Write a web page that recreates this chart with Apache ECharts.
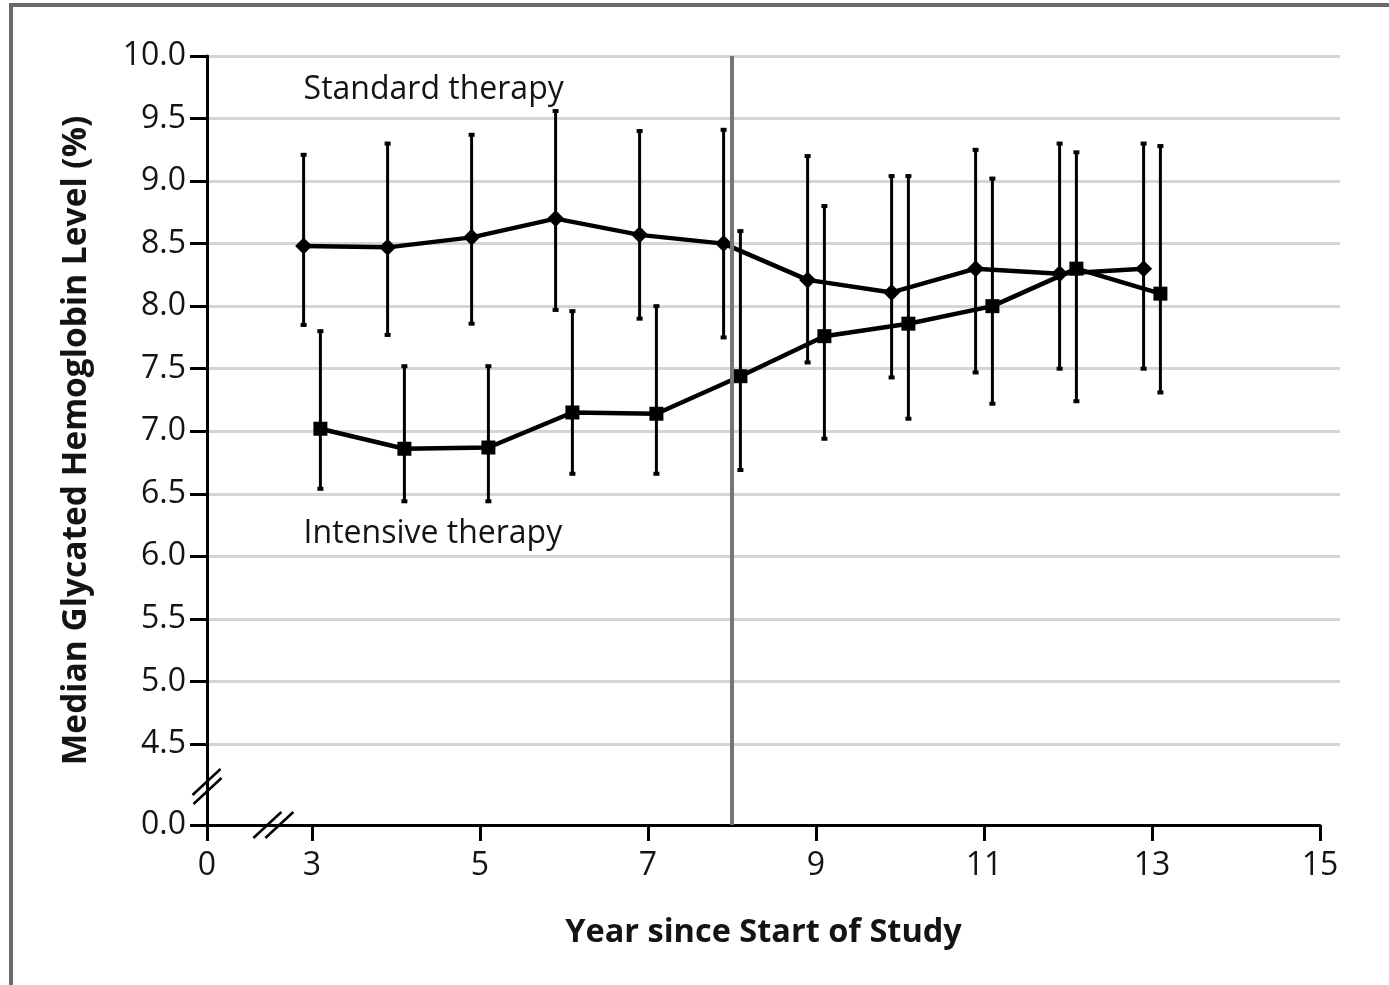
<!DOCTYPE html>
<html>
<head>
<meta charset="utf-8">
<script src="https://cdn.jsdelivr.net/npm/echarts@6/dist/echarts.min.js"></script>
<style>
  html, body { margin: 0; padding: 0; background: #ffffff; }
  #chart { width: 1389px; height: 985px; }
</style>
</head>
<body>
<div id="chart"></div>
<script>
// Median HbA1c per arm; the two arms are plotted 0.1 yr either side of each whole year
const standardYears  = [2.9, 3.9, 4.9, 5.9, 6.9, 7.9, 8.9, 9.9, 10.9, 11.9, 12.9];
const standardMedian = [8.48, 8.47, 8.55, 8.70, 8.57, 8.50, 8.21, 8.11, 8.30, 8.26, 8.30];
const standardLow    = [7.85, 7.77, 7.86, 7.97, 7.90, 7.75, 7.55, 7.43, 7.47, 7.50, 7.50];
const standardHigh   = [9.21, 9.30, 9.37, 9.56, 9.40, 9.41, 9.20, 9.04, 9.25, 9.30, 9.30];

const intensiveYears  = [3.1, 4.1, 5.1, 6.1, 7.1, 8.1, 9.1, 10.1, 11.1, 12.1, 13.1];
const intensiveMedian = [7.02, 6.86, 6.87, 7.15, 7.14, 7.44, 7.76, 7.86, 8.00, 8.30, 8.10];
const intensiveLow    = [6.54, 6.44, 6.44, 6.66, 6.66, 6.69, 6.94, 7.10, 7.22, 7.24, 7.31];
const intensiveHigh   = [7.80, 7.52, 7.52, 7.96, 8.00, 8.60, 8.80, 9.04, 9.02, 9.23, 9.28];

// Both axes are broken: the first value of each tick list is the origin, labelled "0" / "0.0"
const xOrigin = 1.75;
const yOrigin = 3.852;
const xTickValues = [xOrigin, 3, 5, 7, 9, 11, 13, 15];
const yTickValues = [yOrigin, 4.5, 5.0, 5.5, 6.0, 6.5, 7.0, 7.5, 8.0, 8.5, 9.0, 9.5, 10.0];
const gridYValues = [4.5, 10.0];
const interventionEndYear = 8;

const seriesNames = ['Standard therapy', 'Intensive therapy'];

const FONT = '"Open Sans", "Noto Sans", sans-serif';
const INK = '#141414';

const chart = echarts.init(document.getElementById('chart'), null, { renderer: 'canvas' });

function errorBars(years, low, high) {
  return {
    type: 'custom',
    xAxisIndex: 1,
    yAxisIndex: 1,
    z: 3,
    silent: true,
    data: years.map((x, i) => [x, low[i], high[i]]),
    encode: { x: 0, y: [1, 2] },
    renderItem(params, api) {
      const x = api.value(0);
      const top = api.coord([x, api.value(2)]);
      const bot = api.coord([x, api.value(1)]);
      const stem = { stroke: '#000', lineWidth: 3 };
      const cap = { stroke: '#000', lineWidth: 4 };
      return {
        type: 'group',
        children: [
          { type: 'line', shape: { x1: top[0], y1: top[1], x2: bot[0], y2: bot[1] }, style: stem },
          { type: 'line', shape: { x1: top[0] - 3, y1: top[1], x2: top[0] + 3, y2: top[1] }, style: cap },
          { type: 'line', shape: { x1: bot[0] - 3, y1: bot[1], x2: bot[0] + 3, y2: bot[1] }, style: cap }
        ]
      };
    }
  };
}

const option = {
  backgroundColor: '#ffffff',
  animation: false,
  grid: [
    // grid 0 only carries the horizontal reference lines (they run a little past 15)
    { left: 207, top: 56, right: 49, bottom: 241, containLabel: false },
    // grid 1 carries the axes and the data
    { left: 207, top: 56, right: 69, bottom: 160, containLabel: false }
  ],
  xAxis: [
    { type: 'value', gridIndex: 0, show: false, min: xOrigin, max: 15.238 },
    {
      type: 'value', gridIndex: 1, min: xOrigin, max: 15,
      axisLine: { show: true, onZero: false, lineStyle: { color: '#000', width: 3 } },
      axisTick: { show: true, customValues: xTickValues, length: 16, inside: false, lineStyle: { color: '#000', width: 3 } },
      axisLabel: {
        customValues: xTickValues, margin: 25, color: INK, fontFamily: FONT, fontSize: 32,
        formatter: v => (v === xOrigin ? '0' : String(v))
      },
      splitLine: { show: false },
      name: 'Year since Start of Study',
      nameLocation: 'middle',
      nameGap: 91,
      nameTextStyle: { color: INK, fontFamily: FONT, fontSize: 32.5, fontWeight: 'bold' }
    }
  ],
  yAxis: [
    {
      type: 'value', gridIndex: 0, min: gridYValues[0], max: gridYValues[1], interval: 0.5,
      axisLine: { show: false }, axisTick: { show: false }, axisLabel: { show: false },
      splitLine: { show: true, lineStyle: { color: '#d5d5d9', width: 3 } }
    },
    {
      type: 'value', gridIndex: 1, min: yOrigin, max: 10,
      axisLine: { show: true, onZero: false, lineStyle: { color: '#000', width: 3 } },
      axisTick: { show: true, customValues: yTickValues, length: 17, inside: false, lineStyle: { color: '#000', width: 3 } },
      axisLabel: {
        customValues: yTickValues, margin: 21, color: INK, fontFamily: FONT, fontSize: 32,
        formatter: v => (v === yOrigin ? '0.0' : v.toFixed(1))
      },
      splitLine: { show: false },
      name: 'Median Glycated Hemoglobin Level (%)',
      nameLocation: 'middle',
      nameGap: 114,
      nameRotate: 90,
      nameTextStyle: { color: INK, fontFamily: FONT, fontSize: 33.5, fontWeight: 'bold' }
    }
  ],
  series: [
    errorBars(standardYears, standardLow, standardHigh),
    errorBars(intensiveYears, intensiveLow, intensiveHigh),
    {
      name: seriesNames[0],
      type: 'line',
      xAxisIndex: 1, yAxisIndex: 1,
      z: 4,
      data: standardYears.map((x, i) => [x, standardMedian[i]]),
      symbol: 'diamond', symbolSize: 17, showAllSymbol: true,
      lineStyle: { color: '#000', width: 4.5 },
      itemStyle: { color: '#000' }
    },
    {
      name: seriesNames[1],
      type: 'line',
      xAxisIndex: 1, yAxisIndex: 1,
      z: 4,
      data: intensiveYears.map((x, i) => [x, intensiveMedian[i]]),
      symbol: 'rect', symbolSize: 14, showAllSymbol: true,
      lineStyle: { color: '#000', width: 4.5 },
      itemStyle: { color: '#000' }
    },
    {
      // end of the randomised intervention
      type: 'line',
      xAxisIndex: 1, yAxisIndex: 1,
      z: 8,
      data: [],
      markLine: {
        silent: true,
        symbol: ['none', 'none'],
        label: { show: false },
        lineStyle: { color: '#76767a', width: 4, type: 'solid' },
        data: [{ xAxis: interventionEndYear }]
      }
    }
  ]
};

chart.setOption(option);

// Frame, axis-break marks and arm labels
const xBreak = chart.convertToPixel({ xAxisIndex: 1, yAxisIndex: 1 }, [2.54, yOrigin]);
const yBreak = chart.convertToPixel({ xAxisIndex: 1, yAxisIndex: 1 }, [xOrigin, 4.16]);
const stdLabelAt = chart.convertToPixel({ xAxisIndex: 1, yAxisIndex: 1 }, [2.9, 9.73]);
const intLabelAt = chart.convertToPixel({ xAxisIndex: 1, yAxisIndex: 1 }, [2.9, 6.18]);

// two parallel "//" strokes; (dx, dy) is the offset between them
function slashPair(cx, cy, dx, dy) {
  const s = { stroke: '#000', lineWidth: 2.5 };
  return [
    { type: 'line', z: 20, shape: { x1: cx - dx - 14, y1: cy + 13 - dy, x2: cx - dx + 14, y2: cy - 13 - dy }, style: s },
    { type: 'line', z: 20, shape: { x1: cx + dx - 14, y1: cy + 13 + dy, x2: cx + dx + 14, y2: cy - 13 + dy }, style: s }
  ];
}

chart.setOption({
  graphic: [
    { type: 'rect', z: 30, shape: { x: 11, y: 5, width: 1420, height: 1020 },
      style: { fill: null, stroke: '#6b6b6e', lineWidth: 4 } },
    ...slashPair(xBreak[0], xBreak[1], 6, 0),
    ...slashPair(yBreak[0], yBreak[1], 0.5, 4.5),
    { type: 'text', z: 20, style: { x: stdLabelAt[0], y: stdLabelAt[1], text: seriesNames[0],
      font: '32px ' + FONT, fill: INK, textAlign: 'left', textVerticalAlign: 'middle' } },
    { type: 'text', z: 20, style: { x: intLabelAt[0], y: intLabelAt[1], text: seriesNames[1],
      font: '32px ' + FONT, fill: INK, textAlign: 'left', textVerticalAlign: 'middle' } }
  ]
});
</script>
</body>
</html>
